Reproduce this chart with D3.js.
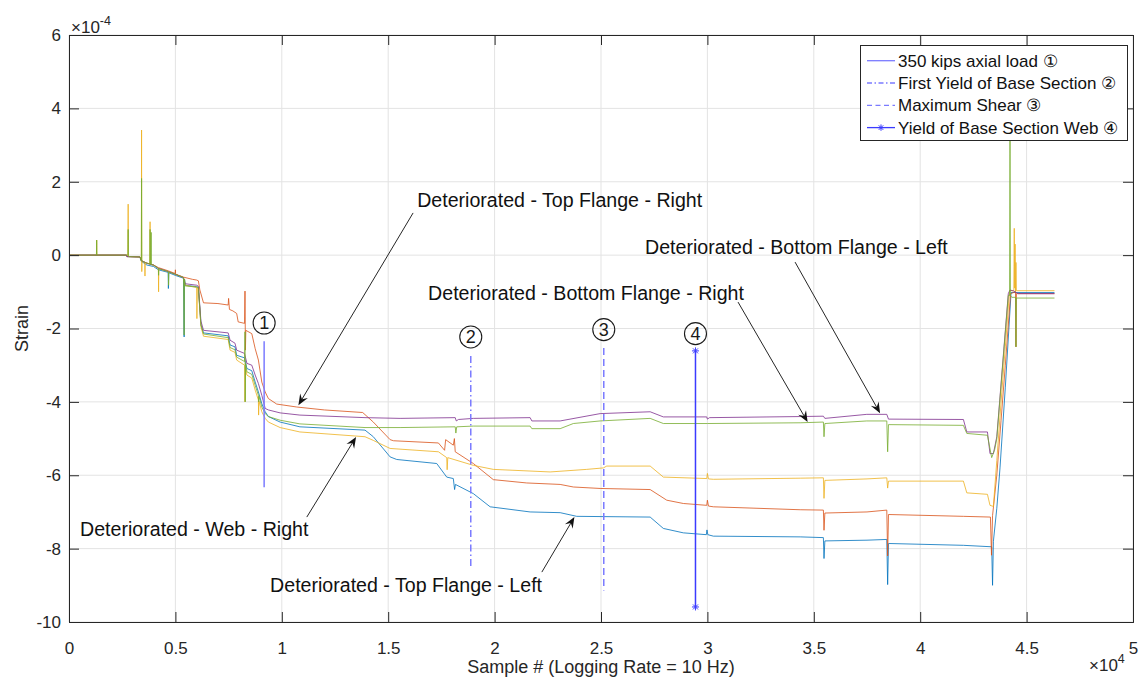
<!DOCTYPE html>
<html>
<head>
<meta charset="utf-8">
<script src="https://cdn.jsdelivr.net/npm/d3@7"></script>
<style>
  body { margin: 0; background: #fff; }
  svg { display: block; font-family: "Liberation Sans", Arial, Helvetica, sans-serif; }
</style>
</head>
<body>
<svg id="chart" width="1140" height="678"></svg>
<script>
// ---- Strain records (x: sample #, y: strain in units of 1e-4) ----
const topFlangeLeft = [[0,0],[2700,0],[2720,-0.04],[3330,-0.05],[3400,-0.17],[3660,-0.27],[3970,-0.31],[4200,-0.40],[4660,-0.47],[4670,-0.91],[4690,-0.48],[4990,-0.55],[5380,-0.63],[5410,-2.23],[5430,-0.66],[5460,-0.82],[6000,-0.86],[6080,-0.88],[6200,-1.9],[6320,-2.12],[7480,-2.20],[7570,-2.45],[7800,-2.50],[7880,-2.73],[8250,-2.80],[8360,-3.09],[8590,-3.15],[8750,-3.46],[8900,-3.73],[9060,-4.05],[9220,-4.27],[9370,-4.40],[9920,-4.55],[10850,-4.68],[13910,-4.77],[14300,-4.95],[15090,-5.50],[15400,-5.57],[17280,-5.68],[17750,-6.05],[18060,-6.09],[18120,-6.39],[18160,-6.25],[19000,-6.50],[19790,-6.86],[21670,-7.0],[23080,-7.02],[23860,-7.12],[27310,-7.14],[27930,-7.45],[28870,-7.57],[29950,-7.62],[29980,-7.49],[30020,-7.62],[30280,-7.66],[34360,-7.68],[35450,-7.70],[35480,-8.27],[35520,-7.79],[37500,-7.77],[38430,-7.75],[38470,-8.98],[38510,-7.86],[42030,-7.91],[43360,-7.95],[43400,-9.0],[43440,-7.8],[43600,-6.9],[43750,-5.8],[44000,-3.6],[44270,-1.02],[46310,-1.02]];

const topFlangeRight = [[0,0],[2700,0],[2720,-0.04],[3330,-0.05],[3400,-0.15],[3660,-0.22],[3970,-0.27],[4200,-0.34],[4670,-0.43],[4990,-0.50],[5000,-0.40],[5010,-0.52],[5380,-0.60],[5800,-0.66],[6000,-0.68],[6080,-0.70],[6150,-0.95],[6320,-1.30],[7000,-1.32],[7480,-1.36],[7500,-1.18],[7540,-1.48],[7700,-1.52],[7880,-1.59],[7950,-1.82],[8250,-1.86],[8270,-0.98],[8290,-2.59],[8310,-2.05],[8590,-2.14],[8750,-2.55],[8900,-2.86],[9060,-3.46],[9220,-3.73],[9370,-3.91],[9760,-4.06],[10700,-4.14],[12000,-4.22],[13800,-4.29],[14300,-4.55],[15090,-5.03],[15250,-5.06],[17360,-5.12],[17650,-5.32],[17700,-5.03],[18060,-5.18],[18110,-5.0],[18150,-5.36],[19000,-5.68],[19940,-6.12],[21510,-6.21],[23080,-6.25],[23700,-6.32],[24960,-6.36],[27310,-6.39],[28090,-6.68],[28870,-6.77],[29970,-6.82],[30000,-6.68],[30050,-6.84],[30280,-6.86],[34360,-6.94],[35450,-6.95],[35480,-7.5],[35520,-7.03],[37500,-7.0],[38430,-6.95],[38470,-8.2],[38510,-7.07],[42030,-7.12],[43300,-7.14],[43350,-8.18],[43400,-7.1],[43600,-6.0],[43800,-4.5],[44000,-3.0],[44250,-1.05],[44480,-1.0],[44500,-2.5],[44520,-1.05],[46310,-1.05]];

const webRight = [[0,0],[1290,0],[1300,0.41],[1310,0],[2700,0],[2770,0],[2780,1.39],[2790,-0.04],[3330,-0.05],[3400,-0.15],[3410,3.41],[3420,-0.45],[3430,-0.16],[3560,-0.2],[3570,-0.57],[3580,-0.2],[3660,-0.22],[3800,-0.24],[3810,0.91],[3820,-0.25],[3970,-0.27],[4200,-0.36],[4210,-1.0],[4220,-0.37],[4670,-0.45],[4990,-0.52],[5380,-0.61],[5460,-0.82],[6000,-0.88],[6010,-1.73],[6030,-0.89],[6080,-0.9],[6200,-1.95],[6320,-2.21],[7480,-2.30],[7570,-2.59],[7800,-2.65],[7880,-2.86],[8250,-3.0],[8270,-4.0],[8290,-3.05],[8360,-3.27],[8590,-3.35],[8750,-3.68],[8900,-3.95],[8910,-4.36],[8930,-3.98],[9060,-4.27],[9220,-4.45],[9370,-4.55],[9920,-4.70],[10850,-4.82],[13910,-4.95],[14300,-5.05],[15090,-5.27],[17360,-5.36],[17750,-5.52],[17770,-5.85],[17800,-5.52],[19000,-5.73],[19940,-5.84],[22610,-5.91],[24330,-5.84],[25110,-5.80],[25270,-5.75],[27310,-5.75],[27930,-6.05],[29970,-6.09],[30000,-5.95],[30050,-6.1],[30280,-6.11],[34360,-6.08],[35450,-6.07],[35480,-6.63],[35520,-6.14],[37500,-6.10],[38430,-6.07],[38470,-6.35],[38510,-6.16],[42030,-6.16],[42190,-6.48],[43160,-6.52],[43280,-6.82],[43440,-6.85],[43600,-5.6],[43800,-4.0],[44000,-2.5],[44200,-0.97],[44400,-0.97],[44420,0.73],[44440,-0.9],[44460,0.3],[44480,-1.0],[44500,-0.2],[44520,-0.97],[46310,-0.97]];

const bottomFlangeLeft = [[0,0],[2700,0],[2720,-0.04],[3330,-0.05],[3400,-0.15],[3660,-0.22],[3970,-0.27],[4200,-0.36],[4670,-0.45],[4990,-0.52],[5380,-0.61],[5460,-0.78],[6000,-0.82],[6080,-0.85],[6200,-1.8],[6320,-2.05],[7480,-2.12],[7570,-2.32],[7800,-2.40],[7880,-2.59],[8250,-2.68],[8360,-2.95],[8590,-3.0],[8750,-3.27],[8900,-3.5],[9060,-3.82],[9220,-4.18],[9370,-4.22],[9920,-4.30],[10850,-4.36],[13910,-4.43],[15560,-4.45],[18150,-4.43],[18200,-4.52],[18300,-4.48],[19000,-4.45],[21670,-4.43],[21750,-4.52],[23080,-4.52],[24960,-4.32],[27310,-4.27],[27930,-4.41],[29970,-4.41],[30000,-4.47],[30100,-4.43],[34360,-4.40],[35450,-4.39],[35520,-4.45],[37490,-4.34],[38430,-4.34],[38510,-4.47],[42030,-4.48],[42190,-4.82],[43160,-4.82],[43280,-5.41],[43440,-5.41],[43600,-4.95],[44140,-1.05],[44220,-0.95],[44400,-0.98],[44600,-1.05],[46310,-1.05]];

const bottomFlangeRight = [[0,0],[1290,0],[1300,0.41],[1310,0],[2700,0],[2770,0],[2780,0.7],[2790,-0.04],[3330,-0.05],[3400,-0.15],[3410,2.09],[3420,-0.16],[3660,-0.22],[3800,-0.24],[3810,0.70],[3820,-0.25],[3850,-0.25],[3860,0.62],[3870,-0.26],[3970,-0.27],[4200,-0.36],[4210,-0.55],[4220,-0.37],[4670,-0.45],[4680,-0.82],[4690,-0.46],[4990,-0.52],[5380,-0.61],[5410,-2.18],[5430,-0.66],[5460,-0.84],[6000,-0.87],[6080,-0.88],[6200,-1.9],[6320,-2.15],[7480,-2.25],[7570,-2.52],[7800,-2.58],[7880,-2.78],[8250,-2.90],[8270,-2.09],[8280,-4.0],[8300,-2.95],[8360,-3.18],[8590,-3.25],[8750,-3.55],[8900,-3.82],[8910,-4.0],[8930,-3.85],[9060,-4.14],[9220,-4.32],[9370,-4.40],[9920,-4.50],[10850,-4.60],[13910,-4.70],[15560,-4.70],[18150,-4.68],[18180,-4.85],[18220,-4.68],[19000,-4.66],[21670,-4.66],[21750,-4.73],[23080,-4.73],[23700,-4.59],[24960,-4.52],[27310,-4.45],[27930,-4.59],[30000,-4.59],[34360,-4.57],[35450,-4.55],[35480,-4.95],[35520,-4.59],[37490,-4.52],[38430,-4.52],[38470,-5.36],[38510,-4.62],[42030,-4.64],[42190,-4.86],[43160,-4.91],[43360,-5.52],[43500,-5.3],[43600,-5.0],[44140,-1.1],[44200,-1.1],[44220,3.14],[44240,-1.1],[44300,-1.15],[44480,-1.15],[44500,-2.5],[44520,-1.17],[46310,-1.17]];

// plotting order follows the default colour order
const seriesData = [topFlangeLeft, topFlangeRight, webRight, bottomFlangeLeft, bottomFlangeRight];
const seriesColors = ["#0072BD", "#D95319", "#EDB120", "#7E2F8E", "#77AC30"];

// ---- Load events ----
const eventNames = ["350 kips axial load \u2460", "First Yield of Base Section \u2461", "Maximum Shear \u2462", "Yield of Base Section Web \u2463"];
const eventMarks = ["1", "2", "3", "4"];
const eventSamples = [9170, 18880, 25130, 29440];
const eventTop = [-2.35, -2.75, -2.53, -2.61];
const eventBottom = [-6.33, -8.5, -9.14, -9.59];
const eventMarkY = [-1.85, -2.23, -2.03, -2.14];

// ---- Gauge callouts: label anchor, arrow tail, arrow tip ----
const calloutText = ["Deteriorated - Top Flange - Right", "Deteriorated - Bottom Flange - Left", "Deteriorated - Bottom Flange - Right", "Deteriorated - Web - Right", "Deteriorated - Top Flange - Left"];
const calloutLabel = [[16360, 1.50], [27070, 0.22], [16875, -1.04], [520, -7.47], [9450, -9.0]];
const calloutTail = [[16170, 1.15], [34120, -0.19], [31440, -1.28], [11175, -7.14], [22220, -8.64]];
const calloutTip = [[10780, -4.09], [38115, -4.31], [34710, -4.55], [13490, -4.955], [23750, -7.14]];

// ---- Axes ----
const xTicks = [0, 5000, 10000, 15000, 20000, 25000, 30000, 35000, 40000, 45000, 50000];
const xTickLabels = ["0", "0.5", "1", "1.5", "2", "2.5", "3", "3.5", "4", "4.5", "5"];
const yTicks = [-10, -8, -6, -4, -2, 0, 2, 4, 6];
const yTickLabels = ["-10", "-8", "-6", "-4", "-2", "0", "2", "4", "6"];

const svg = d3.select("#chart");
const W = 1140, H = 678;
const margin = { left: 69, right: 7, top: 35, bottom: 56 };
const iw = W - margin.left - margin.right;
const ih = H - margin.top - margin.bottom;
const axisColor = "#262626";

const x = d3.scaleLinear().domain([0, 50000]).range([0, iw]);
const y = d3.scaleLinear().domain([-10, 6]).range([ih, 0]);

const g = svg.append("g").attr("transform", `translate(${margin.left},${margin.top})`);

// grid
const grid = g.append("g").attr("class", "grid");
grid.selectAll("line.v").data(xTicks).join("line")
  .attr("x1", d => x(d)).attr("x2", d => x(d)).attr("y1", 0).attr("y2", ih)
  .attr("stroke", "#e3e3e3").attr("stroke-width", 1);
grid.selectAll("line.h").data(yTicks).join("line")
  .attr("x1", 0).attr("x2", iw).attr("y1", d => y(d)).attr("y2", d => y(d))
  .attr("stroke", "#e3e3e3").attr("stroke-width", 1);

// clip
svg.append("defs").append("clipPath").attr("id", "plotClip")
  .append("rect").attr("x", 0).attr("y", 0).attr("width", iw).attr("height", ih);

const plot = g.append("g").attr("clip-path", "url(#plotClip)");
const line = d3.line().x(d => x(d[0])).y(d => y(d[1]));

seriesData.forEach((s, i) => {
  plot.append("path").datum(s)
    .attr("d", line)
    .attr("fill", "none")
    .attr("stroke", seriesColors[i])
    .attr("stroke-opacity", 0.8)
    .attr("stroke-width", 1)
    .attr("stroke-linejoin", "round");
});

// event lines
const eventStroke = ["#7b7bff", "#7b7bff", "#7b7bff", "#3b3bff"];
const eventDash = [null, "7,3,1.5,3", "7,4", null];
function asterisk(sel, cx, cy, r, color) {
  const a = r * 0.707;
  sel.append("path")
    .attr("d", `M${cx - r},${cy}H${cx + r}M${cx},${cy - r}V${cy + r}M${cx - a},${cy - a}L${cx + a},${cy + a}M${cx - a},${cy + a}L${cx + a},${cy - a}`)
    .attr("stroke", color).attr("stroke-width", 1).attr("fill", "none");
}
eventSamples.forEach((s, i) => {
  plot.append("line")
    .attr("x1", x(s)).attr("x2", x(s))
    .attr("y1", y(eventTop[i])).attr("y2", y(eventBottom[i]))
    .attr("stroke", eventStroke[i])
    .attr("stroke-width", 1.5)
    .attr("stroke-dasharray", eventDash[i]);
  if (i === 3) {
    asterisk(plot, x(s), y(eventTop[i]), 3.5, eventStroke[i]);
    asterisk(plot, x(s), y(eventBottom[i]), 3.5, eventStroke[i]);
  }
  // circled marker
  const mx = x(s), my = y(eventMarkY[i]);
  g.append("circle").attr("cx", mx).attr("cy", my).attr("r", 11)
    .attr("fill", "none").attr("stroke", "#1a1a1a").attr("stroke-width", 1.1);
  g.append("text").attr("x", mx).attr("y", my + 6.3)
    .attr("text-anchor", "middle").attr("font-size", 18).attr("fill", "#1a1a1a")
    .text(eventMarks[i]);
});

// axes (inward ticks, box)
const xAxisB = d3.axisBottom(x).tickValues(xTicks).tickFormat((d, i) => xTickLabels[i]).tickSize(-10).tickPadding(20);
const xAxisT = d3.axisTop(x).tickValues(xTicks).tickFormat("").tickSize(-10);
const yAxisL = d3.axisLeft(y).tickValues(yTicks).tickFormat((d, i) => yTickLabels[i]).tickSize(-10).tickPadding(8);
const yAxisR = d3.axisRight(y).tickValues(yTicks).tickFormat("").tickSize(-10);

function styleAxis(sel) {
  sel.selectAll("path").attr("stroke", axisColor).attr("stroke-width", 1);
  sel.selectAll("line").attr("stroke", axisColor).attr("stroke-width", 1);
  sel.selectAll("text").attr("fill", axisColor).attr("font-size", 17)
    .attr("font-family", "'Liberation Sans', Arial, sans-serif");
}
g.append("g").attr("transform", `translate(0,${ih})`).call(xAxisB).call(styleAxis);
g.append("g").call(xAxisT).call(styleAxis);
g.append("g").call(yAxisL).call(styleAxis);
g.append("g").attr("transform", `translate(${iw},0)`).call(yAxisR).call(styleAxis);
g.selectAll(".domain").attr("fill", "none");

// exponent labels
const expTop = svg.append("text").attr("x", 71).attr("y", 33).attr("font-size", 17).attr("fill", axisColor);
expTop.append("tspan").text("\u00d710");
expTop.append("tspan").attr("dy", -8).attr("font-size", 12.5).text("-4");
const expBot = svg.append("text").attr("x", 1089).attr("y", 671).attr("font-size", 17).attr("fill", axisColor);
expBot.append("tspan").text("\u00d710");
expBot.append("tspan").attr("dy", -8).attr("font-size", 12.5).text("4");

// axis titles
svg.append("text").attr("x", margin.left + iw / 2).attr("y", 673)
  .attr("text-anchor", "middle").attr("font-size", 18).attr("fill", axisColor)
  .text("Sample # (Logging Rate = 10 Hz)");
svg.append("text").attr("transform", `translate(28,${margin.top + ih / 2}) rotate(-90)`)
  .attr("text-anchor", "middle").attr("font-size", 18).attr("fill", axisColor)
  .text("Strain");

// callouts
calloutText.forEach((t, i) => {
  const [tx, ty] = calloutTail[i].map((v, k) => k ? y(v) : x(v));
  const [px, py] = calloutTip[i].map((v, k) => k ? y(v) : x(v));
  const ang = Math.atan2(py - ty, px - tx);
  const L = 11, Wd = 4.5, notch = 7;
  g.append("line").attr("x1", tx).attr("y1", ty)
    .attr("x2", px - Math.cos(ang) * notch).attr("y2", py - Math.sin(ang) * notch)
    .attr("stroke", "#262626").attr("stroke-width", 1);
  g.append("path")
    .attr("d", `M0,0L${-L},${-Wd}L${-notch},0L${-L},${Wd}Z`)
    .attr("transform", `translate(${px},${py}) rotate(${ang * 180 / Math.PI})`)
    .attr("fill", "#111");
  g.append("text")
    .attr("x", x(calloutLabel[i][0])).attr("y", y(calloutLabel[i][1]))
    .attr("dy", "0.35em").attr("font-size", 19.6).attr("fill", "#111")
    .text(t);
});

// legend
const lg = svg.append("g");
lg.append("rect").attr("x", 860.5).attr("y", 45.5).attr("width", 267).attr("height", 95)
  .attr("fill", "#fff").attr("stroke", "#262626").attr("stroke-width", 1);
const rowY = [60.7, 83, 105.3, 127.6];
eventNames.forEach((n, i) => {
  lg.append("line").attr("x1", 867).attr("x2", 895).attr("y1", rowY[i]).attr("y2", rowY[i])
    .attr("stroke", eventStroke[i]).attr("stroke-width", 1.3)
    .attr("stroke-dasharray", eventDash[i] ? (i === 1 ? "5,2.5,1.5,2.5" : "5,3.5") : null);
  if (i === 3) asterisk(lg, 881, rowY[i], 3.2, eventStroke[i]);
  lg.append("text").attr("x", 898).attr("y", rowY[i]).attr("dy", "0.35em")
    .attr("font-size", 17).attr("fill", "#111").text(n);
});
</script>
</body>
</html>
